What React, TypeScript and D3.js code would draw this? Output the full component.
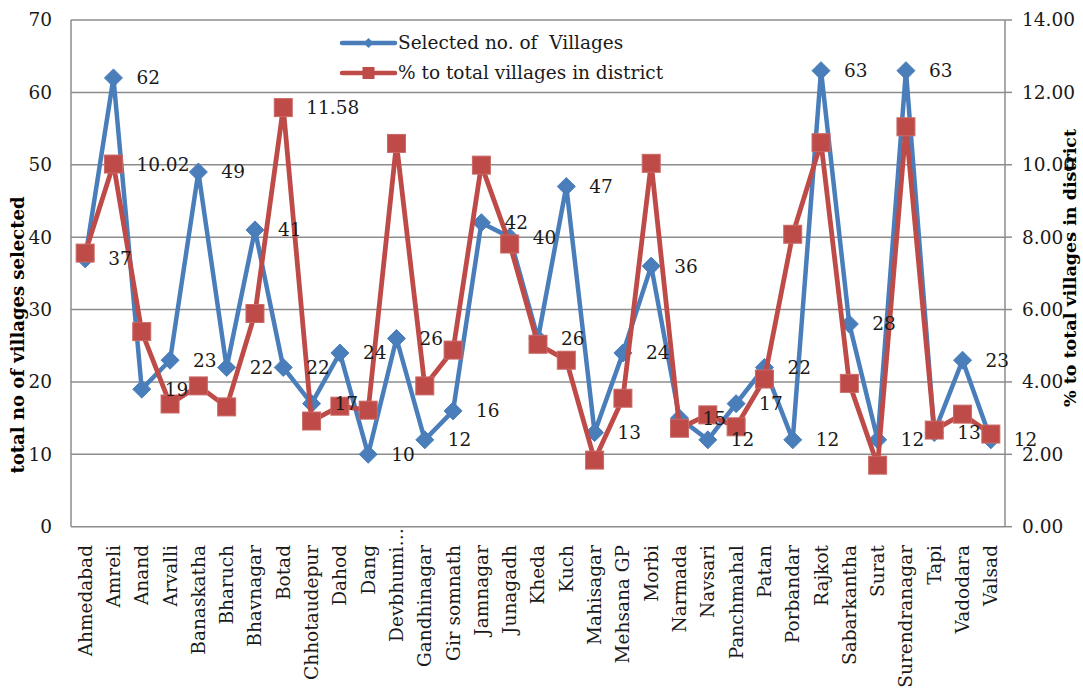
import React from "react";
import * as d3 from "d3";

// District names along the category axis
const categories = [
  "Ahmedabad", "Amreli", "Anand", "Arvalli", "Banaskatha", "Bharuch", "Bhavnagar",
  "Botad", "Chhotaudepur", "Dahod", "Dang", "Devbhumi…", "Gandhinagar", "Gir somnath",
  "Jamnagar", "Junagadh", "Kheda", "Kuch", "Mahisagar", "Mehsana GP", "Morbi",
  "Narmada", "Navsari", "Panchmahal", "Patan", "Porbandar", "Rajkot", "Sabarkantha",
  "Surat", "Surendranagar", "Tapi", "Vadodara", "Valsad",
];

// Selected number of villages per district (left axis)
const selectedVillages = [
  37, 62, 19, 23, 49, 22, 41, 22, 17, 24, 10, 26, 12, 16, 42, 40, 26, 47, 13, 24, 36,
  15, 12, 17, 22, 12, 63, 28, 12, 63, 13, 23, 12,
];

// Share of the district's villages, in percent (right axis)
const pctOfDistrict = [
  7.56, 10.02, 5.39, 3.39, 3.89, 3.31, 5.89, 11.58, 2.92, 3.33, 3.22, 10.59, 3.89, 4.88,
  9.99, 7.81, 5.04, 4.6, 1.84, 3.55, 10.04, 2.72, 3.09, 2.76, 4.08, 8.08, 10.61, 3.96,
  1.7, 11.05, 2.67, 3.11, 2.56,
];

// Districts whose percentage value is printed
const pctLabelled = ["Amreli", "Botad"];

const leftTicks = [0, 10, 20, 30, 40, 50, 60, 70];
const rightTicks = [0, 2, 4, 6, 8, 10, 12, 14];

const seriesNames = ["Selected no. of  Villages", "% to total villages in district"];
const axisTitles = ["total no of villages selected", "% to total villages in district"];

const W = 1083;
const H = 688;
const plot = { left: 71, right: 1005, top: 20, bottom: 526.7 };

const BLUE = "#4A7EBB";
const RED = "#BE4B48";
const GRID = "#8C8C8C";
const FONT = "'DejaVu Serif', serif";
const FS = 18.5;

export default function App() {
  const x = d3.scaleBand<string>().domain(categories).range([plot.left, plot.right]);
  const cx = (c: string) => (x(c) as number) + x.bandwidth() / 2;
  const yL = d3.scaleLinear().domain([0, 70]).range([plot.bottom, plot.top]);
  const yR = d3.scaleLinear().domain([0, 14]).range([plot.bottom, plot.top]);

  const blueLine = d3
    .line<number>()
    .x((_, i) => cx(categories[i]))
    .y((d) => yL(d))(selectedVillages) as string;
  const redLine = d3
    .line<number>()
    .x((_, i) => cx(categories[i]))
    .y((d) => yR(d))(pctOfDistrict) as string;

  const diamond = (px: number, py: number, r: number) =>
    `M${px},${py - r}L${px + r},${py}L${px},${py + r}L${px - r},${py}Z`;

  const legendX0 = 342;
  const legendX1 = 395;
  const legendY = [43, 73];

  return (
    <svg
      width={W}
      height={H}
      style={{ position: "absolute", left: 0, top: 0, background: "#fff" }}
      fontFamily={FONT}
    >
      {/* horizontal gridlines */}
      {leftTicks.map((t) => (
        <line key={`g${t}`} x1={plot.left} x2={plot.right} y1={yL(t)} y2={yL(t)} stroke={GRID} strokeWidth={1.5} />
      ))}
      {/* axis lines */}
      <line x1={plot.left} x2={plot.left} y1={plot.top} y2={plot.bottom} stroke={GRID} strokeWidth={1.5} />
      <line x1={plot.right} x2={plot.right} y1={plot.top} y2={plot.bottom} stroke={GRID} strokeWidth={1.5} />
      {rightTicks.map((t) => (
        <line key={`rt${t}`} x1={plot.right} x2={plot.right + 7} y1={yR(t)} y2={yR(t)} stroke={GRID} strokeWidth={1.5} />
      ))}

      {/* left tick labels */}
      {leftTicks.map((t) => (
        <text key={`lt${t}`} x={52} y={yL(t)} dy="0.35em" textAnchor="end" fontSize={FS} fill="#1a1a1a">
          {t}
        </text>
      ))}
      {/* right tick labels */}
      {rightTicks.map((t) => (
        <text key={`rl${t}`} x={1022} y={yR(t)} dy="0.35em" textAnchor="start" fontSize={FS} fill="#1a1a1a">
          {t.toFixed(2)}
        </text>
      ))}

      {/* category labels */}
      {categories.map((c) => {
        const px = cx(c);
        const truncated = c.endsWith("…");
        const py = truncated ? 528 : 545;
        return (
          <text
            key={`c${c}`}
            transform={`translate(${px},${py}) rotate(-90)`}
            dy="0.35em"
            textAnchor="end"
            fontSize={FS}
            fill="#1a1a1a"
          >
            {c}
          </text>
        );
      })}

      {/* axis titles */}
      <text
        transform={`translate(18,335) rotate(-90)`}
        dy="0.35em"
        textAnchor="middle"
        fontSize={18}
        fontWeight="bold"
        fill="#000"
      >
        {axisTitles[0]}
      </text>
      <text
        transform={`translate(1070,268) rotate(-90)`}
        dy="0.35em"
        textAnchor="middle"
        fontSize={17.5}
        fontWeight="bold"
        fill="#000"
      >
        {axisTitles[1]}
      </text>

      {/* selected villages series */}
      <path d={blueLine} fill="none" stroke={BLUE} strokeWidth={4.5} strokeLinejoin="round" />
      {selectedVillages.map((v, i) => (
        <path key={`bm${i}`} d={diamond(cx(categories[i]), yL(v), 9)} fill={BLUE} stroke={BLUE} strokeWidth={1} />
      ))}

      {/* percentage series */}
      <path d={redLine} fill="none" stroke={RED} strokeWidth={4.8} strokeLinejoin="round" />
      {pctOfDistrict.map((v, i) => (
        <rect
          key={`rm${i}`}
          x={cx(categories[i]) - 9}
          y={yR(v) - 9}
          width={18}
          height={18}
          fill={RED}
          stroke="#C96A67"
          strokeWidth={1}
        />
      ))}

      {/* value labels */}
      {selectedVillages.map((v, i) => (
        <text
          key={`bl${i}`}
          x={cx(categories[i]) + 23}
          y={yL(v)}
          dy="0.35em"
          fontSize={FS}
          fill="#1a1a1a"
        >
          {v}
        </text>
      ))}
      {pctOfDistrict.map((v, i) =>
        pctLabelled.includes(categories[i]) ? (
          <text
            key={`pl${i}`}
            x={cx(categories[i]) + 23}
            y={yR(v)}
            dy="0.35em"
            fontSize={FS}
            fill="#1a1a1a"
          >
            {v.toFixed(2)}
          </text>
        ) : null
      )}

      {/* legend */}
      <g>
        <line x1={legendX0} x2={legendX1} y1={legendY[0]} y2={legendY[0]} stroke={BLUE} strokeWidth={4.5} strokeLinecap="round" />
        <path d={diamond((legendX0 + legendX1) / 2, legendY[0], 5)} fill={BLUE} />
        <text x={398} y={legendY[0]} dy="0.35em" fontSize={FS} fill="#1a1a1a" style={{ whiteSpace: "pre" }}>
          {seriesNames[0]}
        </text>
        <line x1={legendX0} x2={legendX1} y1={legendY[1]} y2={legendY[1]} stroke={RED} strokeWidth={4.5} strokeLinecap="round" />
        <rect x={(legendX0 + legendX1) / 2 - 6} y={legendY[1] - 6} width={12} height={12} fill={RED} />
        <text x={398} y={legendY[1]} dy="0.35em" fontSize={FS} fill="#1a1a1a" style={{ whiteSpace: "pre" }}>
          {seriesNames[1]}
        </text>
      </g>
    </svg>
  );
}
